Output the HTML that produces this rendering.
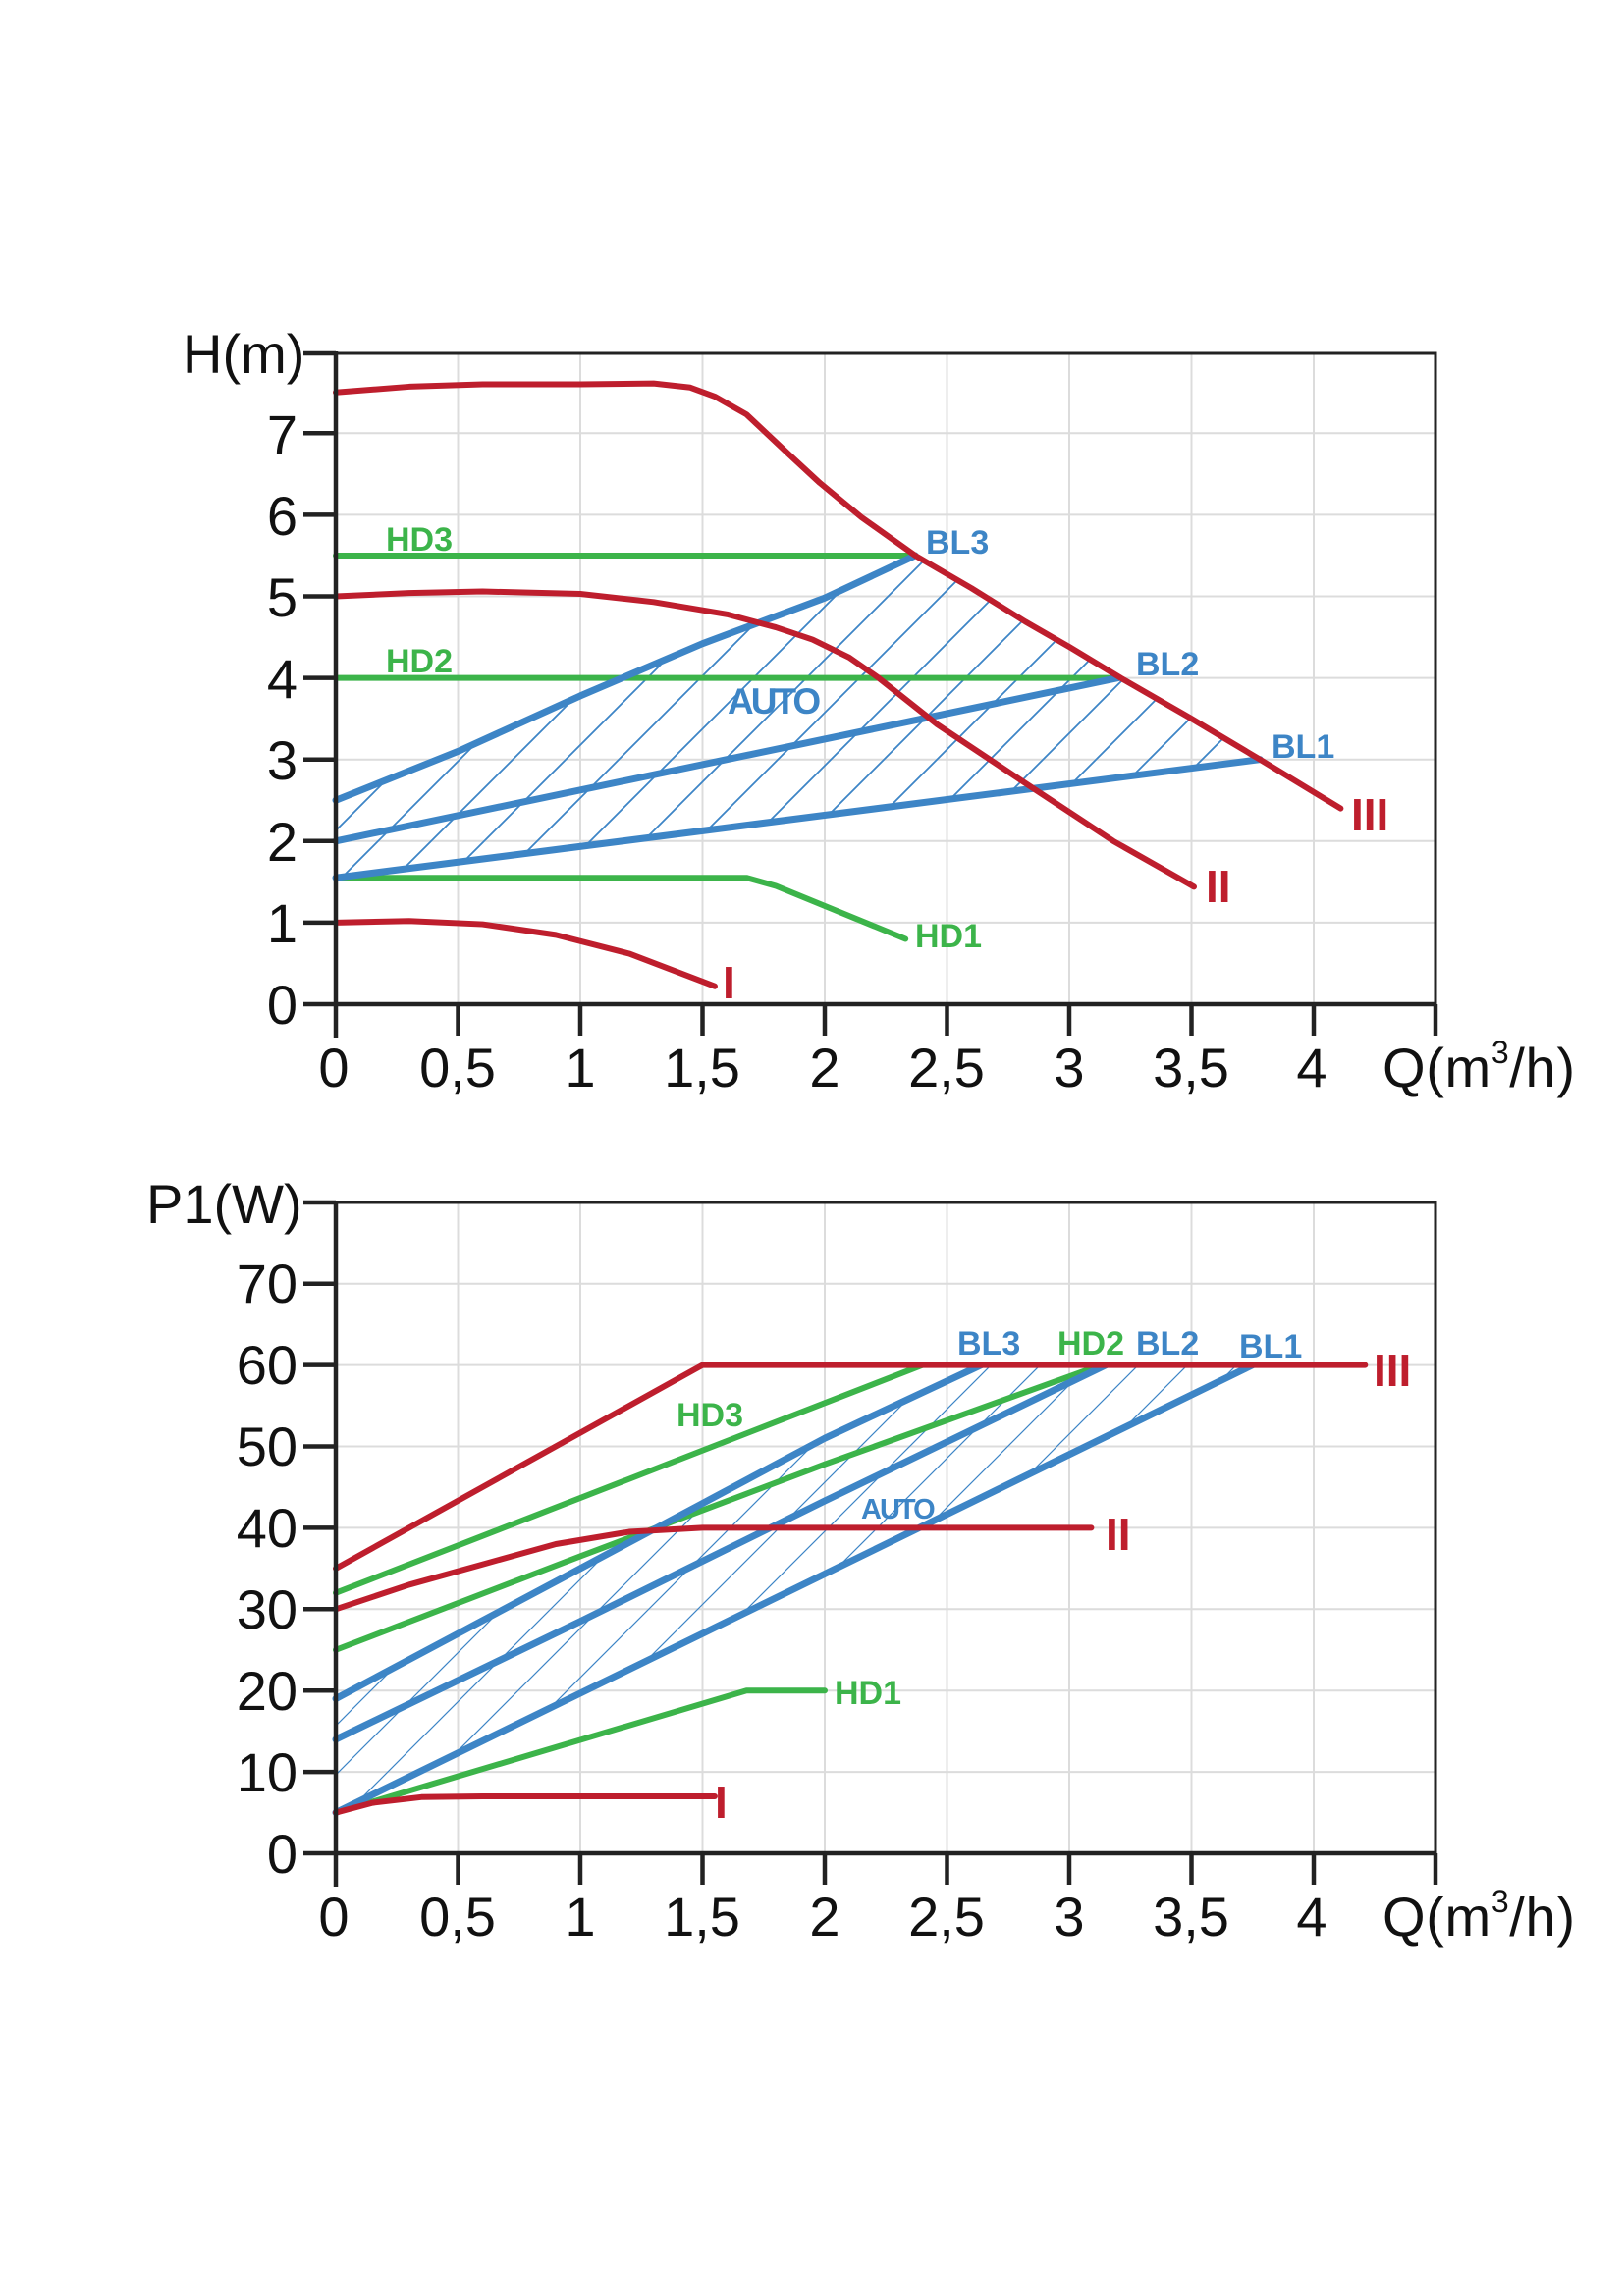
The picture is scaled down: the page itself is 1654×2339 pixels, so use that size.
<!DOCTYPE html>
<html><head><meta charset="utf-8"><style>
html,body{margin:0;padding:0;background:#fff}
svg{display:block}
text{font-family:"Liberation Sans",sans-serif}
.t{font-size:56px;fill:#111}
.lb{font-weight:bold}
</style></head><body>
<svg width="1654" height="2339" viewBox="0 0 1654 2339" xmlns="http://www.w3.org/2000/svg">
<defs>
<pattern id="h1" patternUnits="userSpaceOnUse" width="54" height="54">
<path d="M-5,59 L59,-5 M-5,5 L5,-5 M49,59 L59,49" stroke="#3d85c6" stroke-width="1.8"/>
</pattern>
<pattern id="h2" patternUnits="userSpaceOnUse" width="50" height="50">
<path d="M-5,55 L55,-5 M-5,5 L5,-5 M45,55 L55,45" stroke="#3d85c6" stroke-width="1.2"/>
</pattern>
<clipPath id="c1" clipPathUnits="userSpaceOnUse">
<path transform="translate(342,1023) scale(249,-83.1)" d="M0,1.55 L3.78,3.0 L3.5,3.5 L3.21,4.0 L3.0,4.38 L2.82,4.69 L2.6,5.1 L2.37,5.5 L2.0,4.98 L1.5,4.42 L1.0,3.78 L0.5,3.1 L0,2.5 Z"/>
</clipPath>
<clipPath id="c2" clipPathUnits="userSpaceOnUse">
<path transform="translate(342,1888) scale(249,-8.29)" d="M0,5 L3.75,60 L2.64,60 L2.0,51 L1.5,43 L1.0,35 L0.5,27 L0,19 Z"/>
</clipPath>
</defs>

<!-- ============ PLOT 1 ============ -->
<g stroke="#dcdcdc" stroke-width="2">
<path d="M466.5,360V1023 M591,360V1023 M715.5,360V1023 M840,360V1023 M964.5,360V1023 M1089,360V1023 M1213.5,360V1023 M1338,360V1023"/>
<path d="M342,939.9H1462 M342,856.8H1462 M342,773.7H1462 M342,690.6H1462 M342,607.5H1462 M342,524.4H1462 M342,441.3H1462"/>
</g>
<rect x="0" y="300" width="1654" height="800" fill="url(#h1)" clip-path="url(#c1)"/>
<g transform="translate(342,1023) scale(249,-83.1)" fill="none" stroke-linejoin="round" stroke-linecap="round">
<polyline vector-effect="non-scaling-stroke" stroke="#3cb44a" stroke-width="6" points="0,5.5 2.37,5.5"/>
<polyline vector-effect="non-scaling-stroke" stroke="#3cb44a" stroke-width="6" points="0,4 3.2,4"/>
<polyline vector-effect="non-scaling-stroke" stroke="#3cb44a" stroke-width="6" points="0,1.55 1.68,1.55 1.8,1.45 2.33,0.8"/>
<polyline vector-effect="non-scaling-stroke" stroke="#3d85c6" stroke-width="7" points="0,2.5 0.5,3.1 1.0,3.78 1.5,4.42 2.0,4.98 2.37,5.5"/>
<polyline vector-effect="non-scaling-stroke" stroke="#3d85c6" stroke-width="7" points="0,2 3.2,4"/>
<polyline vector-effect="non-scaling-stroke" stroke="#3d85c6" stroke-width="7" points="0,1.55 3.78,3.0"/>
<polyline vector-effect="non-scaling-stroke" stroke="#be1e2d" stroke-width="6" points="0,7.5 0.3,7.57 0.6,7.6 1.0,7.6 1.3,7.61 1.45,7.56 1.55,7.45 1.68,7.23 1.85,6.75 1.98,6.39 2.15,5.97 2.37,5.5 2.6,5.1 2.82,4.69 3.0,4.38 3.21,4.0 3.5,3.5 3.78,3.0 4.11,2.4"/>
<polyline vector-effect="non-scaling-stroke" stroke="#be1e2d" stroke-width="6" points="0,5.0 0.3,5.04 0.6,5.06 1.0,5.03 1.3,4.93 1.6,4.78 1.8,4.62 1.95,4.47 2.1,4.25 2.22,4.0 2.46,3.43 2.82,2.71 3.18,2.0 3.51,1.44"/>
<polyline vector-effect="non-scaling-stroke" stroke="#be1e2d" stroke-width="6" points="0,1.0 0.3,1.02 0.6,0.98 0.9,0.85 1.2,0.62 1.55,0.22"/>
</g>
<g stroke="#222" fill="none">
<rect x="342" y="360" width="1120" height="663" stroke-width="3"/>
<path d="M342,358V1057 M309,1023H1462" stroke-width="4.5"/>
<path d="M309,939.9H342 M309,856.8H342 M309,773.7H342 M309,690.6H342 M309,607.5H342 M309,524.4H342 M309,441.3H342 M309,360H342" stroke-width="4.5"/>
<path d="M466.5,1023V1055 M591,1023V1055 M715.5,1023V1055 M840,1023V1055 M964.5,1023V1055 M1089,1023V1055 M1213.5,1023V1055 M1338,1023V1055 M1462,1023V1055" stroke-width="4.5"/>
</g>
<g class="t" text-anchor="end">
<text x="303" y="1043">0</text><text x="303" y="960">1</text><text x="303" y="877">2</text><text x="303" y="794">3</text><text x="303" y="711">4</text><text x="303" y="628">5</text><text x="303" y="545">6</text><text x="303" y="462">7</text>
</g>
<text class="t" x="186" y="380">H(m)</text>
<g class="t" text-anchor="middle">
<text x="340" y="1107">0</text><text x="466" y="1107">0,5</text><text x="591" y="1107">1</text><text x="715" y="1107">1,5</text><text x="840" y="1107">2</text><text x="964" y="1107">2,5</text><text x="1089" y="1107">3</text><text x="1213" y="1107">3,5</text><text x="1336" y="1107">4</text>
</g>
<text class="t" x="1408" y="1107" textLength="196">Q(m<tspan font-size="32" dy="-24">3</tspan><tspan dy="24">/h)</tspan></text>
<g class="lb" font-size="34">
<text x="393" y="561" fill="#3cb44a">HD3</text>
<text x="393" y="685" fill="#3cb44a">HD2</text>
<text x="932" y="965" fill="#3cb44a">HD1</text>
<text x="943" y="564" fill="#3d85c6">BL3</text>
<text x="1157" y="688" fill="#3d85c6">BL2</text>
<text x="1295" y="772" fill="#3d85c6">BL1</text>
<text x="741" y="727" fill="#3d85c6" font-size="37" letter-spacing="-3">AUTO</text>
<text x="1376" y="846" fill="#be1e2d" font-size="46">III</text>
<text x="1228" y="919" fill="#be1e2d" font-size="46">II</text>
<text x="736" y="1017" fill="#be1e2d" font-size="46">I</text>
</g>

<!-- ============ PLOT 2 ============ -->
<g stroke="#dcdcdc" stroke-width="2">
<path d="M466.5,1225V1888 M591,1225V1888 M715.5,1225V1888 M840,1225V1888 M964.5,1225V1888 M1089,1225V1888 M1213.5,1225V1888 M1338,1225V1888"/>
<path d="M342,1805.1H1462 M342,1722.2H1462 M342,1639.3H1462 M342,1556.4H1462 M342,1473.5H1462 M342,1390.6H1462 M342,1307.7H1462"/>
</g>
<rect x="0" y="1200" width="1654" height="720" fill="url(#h2)" clip-path="url(#c2)"/>
<g transform="translate(342,1888) scale(249,-8.29)" fill="none" stroke-linejoin="round" stroke-linecap="round">
<polyline vector-effect="non-scaling-stroke" stroke="#3cb44a" stroke-width="6" points="0,32 2.4,60"/>
<polyline vector-effect="non-scaling-stroke" stroke="#3cb44a" stroke-width="6" points="0,25 1.0,36.5 2.0,47.8 3.13,60"/>
<polyline vector-effect="non-scaling-stroke" stroke="#3cb44a" stroke-width="6" points="0,5 1.68,20 2.0,20"/>
<polyline vector-effect="non-scaling-stroke" stroke="#3d85c6" stroke-width="7" points="0,19 0.5,27 1.0,35 1.5,43 2.0,51 2.64,60"/>
<polyline vector-effect="non-scaling-stroke" stroke="#3d85c6" stroke-width="7" points="0,14 1.0,28.5 2.0,43.3 3.15,60"/>
<polyline vector-effect="non-scaling-stroke" stroke="#3d85c6" stroke-width="7" points="0,5 3.75,60"/>
<polyline vector-effect="non-scaling-stroke" stroke="#be1e2d" stroke-width="6" points="0,35 1.5,60 4.21,60"/>
<polyline vector-effect="non-scaling-stroke" stroke="#be1e2d" stroke-width="6" points="0,30 0.3,33 0.6,35.5 0.9,38 1.2,39.5 1.5,40 3.09,40"/>
<polyline vector-effect="non-scaling-stroke" stroke="#be1e2d" stroke-width="6" points="0,5 0.15,6.2 0.35,6.9 0.6,7 1.55,7"/>
</g>
<g stroke="#222" fill="none">
<rect x="342" y="1225" width="1120" height="663" stroke-width="3"/>
<path d="M342,1223V1922 M309,1888H1462" stroke-width="4.5"/>
<path d="M309,1805.1H342 M309,1722.2H342 M309,1639.3H342 M309,1556.4H342 M309,1473.5H342 M309,1390.6H342 M309,1307.7H342 M309,1225H342" stroke-width="4.5"/>
<path d="M466.5,1888V1920 M591,1888V1920 M715.5,1888V1920 M840,1888V1920 M964.5,1888V1920 M1089,1888V1920 M1213.5,1888V1920 M1338,1888V1920 M1462,1888V1920" stroke-width="4.5"/>
</g>
<g class="t" text-anchor="end">
<text x="303" y="1908">0</text><text x="303" y="1825">10</text><text x="303" y="1742">20</text><text x="303" y="1659">30</text><text x="303" y="1576">40</text><text x="303" y="1493">50</text><text x="303" y="1410">60</text><text x="303" y="1327">70</text>
</g>
<text class="t" x="149" y="1246">P1(W)</text>
<g class="t" text-anchor="middle">
<text x="340" y="1972">0</text><text x="466" y="1972">0,5</text><text x="591" y="1972">1</text><text x="715" y="1972">1,5</text><text x="840" y="1972">2</text><text x="964" y="1972">2,5</text><text x="1089" y="1972">3</text><text x="1213" y="1972">3,5</text><text x="1336" y="1972">4</text>
</g>
<text class="t" x="1408" y="1972" textLength="196">Q(m<tspan font-size="32" dy="-24">3</tspan><tspan dy="24">/h)</tspan></text>
<g class="lb" font-size="34">
<text x="975" y="1380" fill="#3d85c6">BL3</text>
<text x="1077" y="1380" fill="#3cb44a">HD2</text>
<text x="1157" y="1380" fill="#3d85c6">BL2</text>
<text x="1262" y="1383" fill="#3d85c6">BL1</text>
<text x="689" y="1453" fill="#3cb44a">HD3</text>
<text x="850" y="1736" fill="#3cb44a">HD1</text>
<text x="877" y="1547" fill="#3d85c6" font-size="29" letter-spacing="-2">AUTO</text>
<text x="1399" y="1412" fill="#be1e2d" font-size="46">III</text>
<text x="1126" y="1579" fill="#be1e2d" font-size="46">II</text>
<text x="728" y="1852" fill="#be1e2d" font-size="46">I</text>
</g>
</svg>
</body></html>
